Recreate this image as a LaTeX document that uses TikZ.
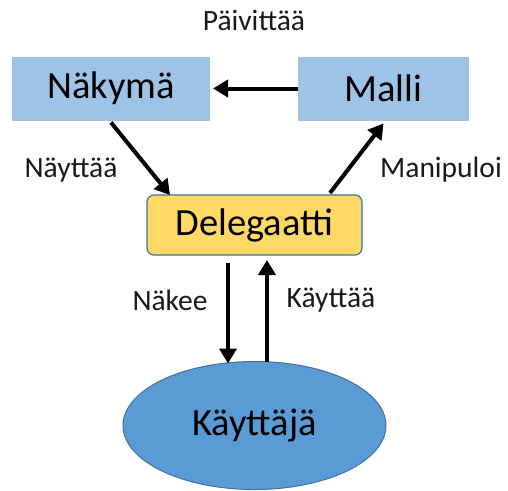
\documentclass[tikz,border=0pt]{standalone}
\usepackage{fontspec}
\setmainfont{Carlito}
\usetikzlibrary{arrows.meta, backgrounds, calc, positioning, shapes}

\definecolor{viewblue}{HTML}{9DC3E6}
\definecolor{delegold}{HTML}{FFD966}
\definecolor{userblue}{HTML}{5B9BD5}
\definecolor{edgeblue}{HTML}{41719C}

\begin{document}
\begin{tikzpicture}[x=1pt, y=-1pt, node distance=88pt, font=\fontsize{29.5}{31}\selectfont]
\tikzset{every node/.style={inner sep=0pt, outer sep=0pt}}

\tikzstyle{part}=[rectangle, fill=viewblue, minimum height=64pt, font=\fontsize{38.5}{40}\selectfont]
\tikzstyle{delegate}=[rectangle, rounded corners=7pt, draw=edgeblue, line width=1.2pt, fill=delegold, minimum width=215pt, minimum height=60pt, font=\fontsize{38.5}{40}\selectfont]
\tikzstyle{user}=[ellipse, draw=edgeblue, line width=1pt, fill=userblue, minimum width=263pt, minimum height=128pt, font=\fontsize{38.5}{40}\selectfont]
\tikzstyle{label}=[text=black!90]
\tikzstyle{post}=[-{Triangle[length=15pt,width=17pt]}, line width=4pt]

\useasboundingbox (0,0) rectangle (508,490);

\node[part, minimum width=198pt] (nakyma) at (111,88.5) {Näkymä};
\node[part, minimum width=171pt, right=of nakyma] (malli) {Malli};
\node[delegate] (delegaatti) at (254.5,225) {Delegaatti};
\node[user] (kayttaja) at (254.5,425.5) {Käyttäjä};

\node[label] (paivittaa label) at (254,20) {Päivittää};
\node[label] (nayttaa label) at (71,170) {Näyttää};
\node[label] (manipuloi label) at (441,170) {Manipuloi};
\node[label] (nakee label) at (170,300) {Näkee};
\node[label] (kayttaa label) at (331,300) {Käyttää};

\coordinate (down start) at ([xshift=-26.5pt,yshift=-8pt]delegaatti.south);
\coordinate (up end) at ([xshift=12.5pt,yshift=-5pt]delegaatti.south);

\draw[post] (malli.west) -- ([xshift=3pt]malli.west -| nakyma.east);
\draw[post] ([yshift=-2pt]nakyma.south) -- ([xshift=23pt]delegaatti.north west);
\draw[post] ([xshift=-32pt,yshift=2pt]delegaatti.north east) -- ([yshift=-3pt]malli.south);
\draw[post] (down start) -- ([yshift=-2pt]down start |- kayttaja.north);
\draw[post] (up end |- kayttaja.north) -- (up end);

\end{tikzpicture}
\end{document}
